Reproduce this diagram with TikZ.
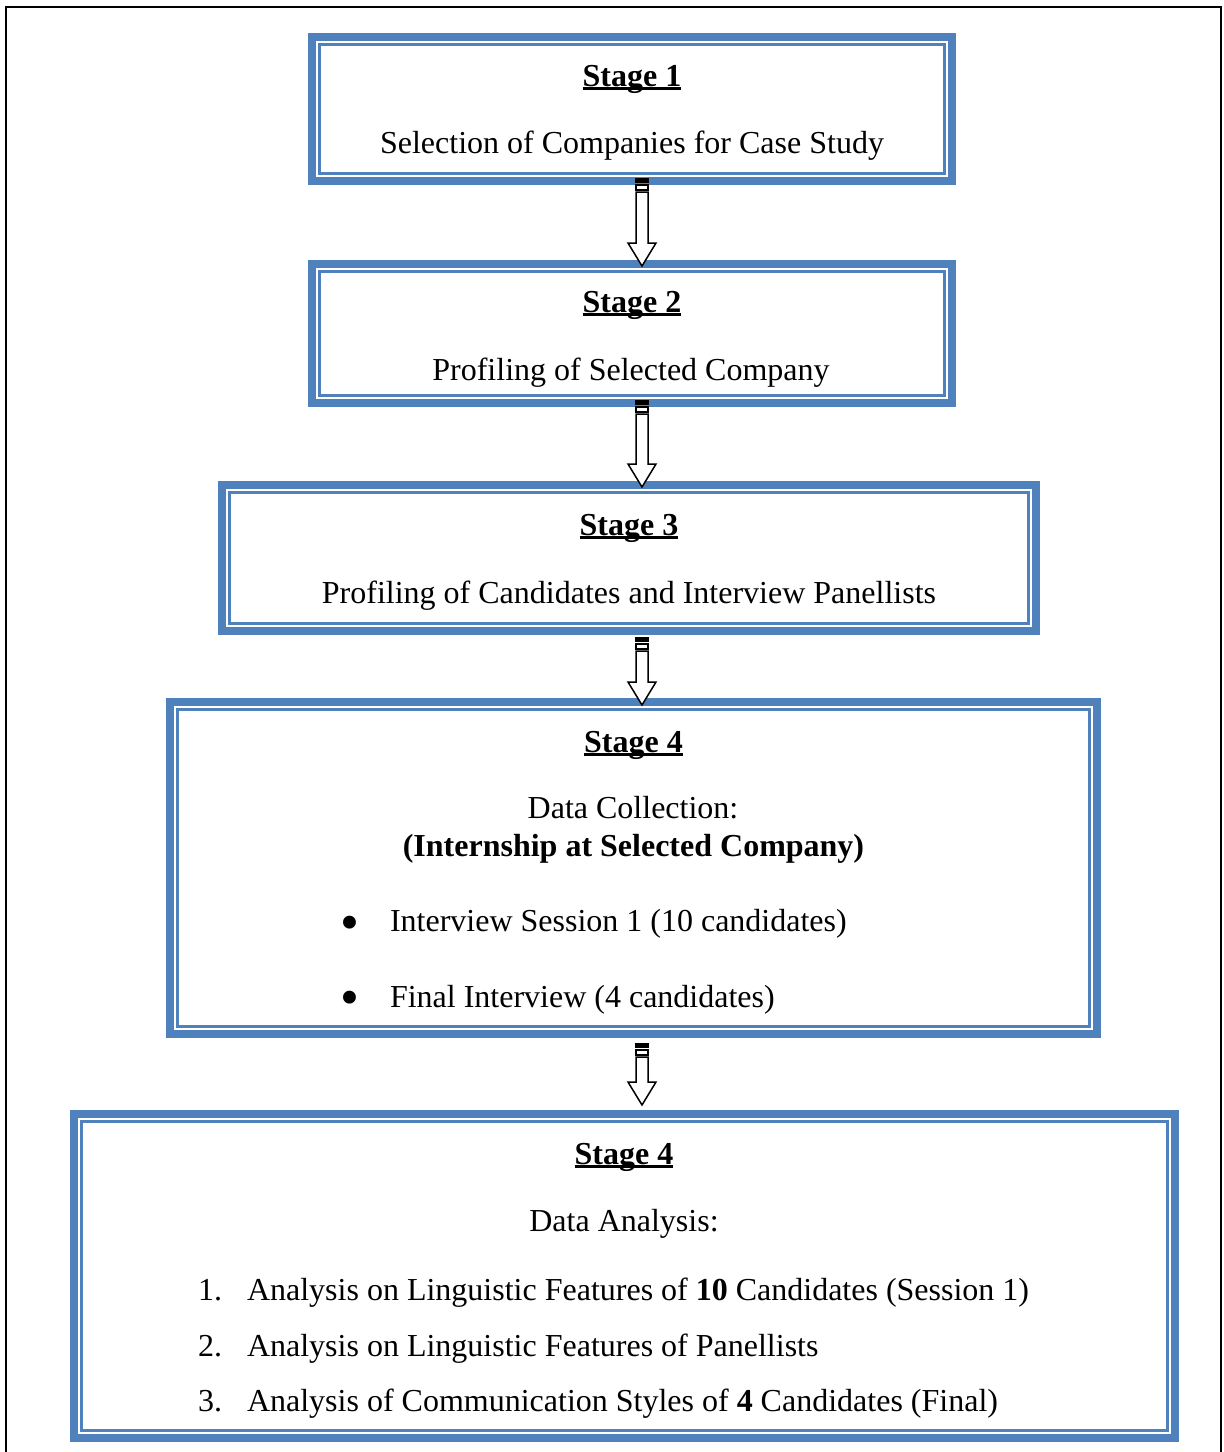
\documentclass[tikz,border=0pt]{standalone}
\usepackage{fontspec}
\setmainfont{Liberation Serif}
\usetikzlibrary{calc}
\definecolor{wblue}{HTML}{4F81BD}
\tikzset{
 stagebox/.style={draw=wblue, line width=4pt, rectangle, outer sep=0pt, inner sep=0pt},
 innerline/.style={draw=wblue, line width=1.5pt},
 txt/.style={inner sep=0pt, outer sep=0pt, font=\fontsize{16}{19}\selectfont, anchor=base},
 ttl/.style={txt, font=\fontsize{16}{19}\selectfont\bfseries},
 lft/.style={txt, anchor=base west},
 bul/.style={inner sep=0pt, outer sep=0pt, font=\fontsize{27}{27}\selectfont, anchor=center},
 uline/.style={line width=1.2pt},
 arrowline/.style={draw=black, line width=0.75pt, fill=white, line join=miter},
 framel/.style={line width=1pt}
}
\newcommand\stripearrow[2]{%
 \fill let \p1=(#1) in (\x1-3.5pt,\y1) rectangle (\x1+3.5pt,\y1-2.5pt);
 \draw[arrowline] let \p1=(#1) in (\x1-3pt,\y1-3.5pt) rectangle (\x1+3pt,\y1-6pt);
 \draw[arrowline] let \p1=(#1), \p2=(#2) in (\x1-3pt,\y1-7pt) -- (\x1-3pt,\y2+11.5pt) -- (\x1-7pt,\y2+11.5pt) -- (\x2,\y2) -- (\x1+7pt,\y2+11.5pt) -- (\x1+3pt,\y2+11.5pt) -- (\x1+3pt,\y1-7pt) -- cycle;
}
\begin{document}
\begin{tikzpicture}[x=0.5pt,y=-0.5pt]
\useasboundingbox (0,0) rectangle (1224,1452);
% outer frame
\coordinate (fa) at (6,1452);
\coordinate (fb) at (6,6.5);
\coordinate (fc) at (1221,6.5);
\coordinate (fd) at (1221,1452);
\draw[framel] (fa) -- (fb) -- (fc) -- (fd);

% boxes
\node[stagebox, minimum width=320pt, minimum height=72pt] (b1) at (632,109) {};
\node[stagebox, minimum width=320pt, minimum height=69.5pt] (b2) at (632,333.5) {};
\node[stagebox, minimum width=407pt, minimum height=73pt] (b3) at (629,558) {};
\node[stagebox, minimum width=463.5pt, minimum height=166pt] (b4) at (633.5,868) {};
\node[stagebox, minimum width=550.5pt, minimum height=162pt] (b5) at (624.5,1276) {};
\foreach \b in {b1,b2,b3,b4,b5}
  \draw[innerline] ([shift={(7.5,7.5)}]\b.north west) rectangle ([shift={(-7.5,-7.5)}]\b.south east);

% texts box 1
\node[ttl] (s1) at (632,86) {Stage 1};
\node[txt] (t1) at (632,153) {Selection of Companies for Case Study};
% box 2
\node[ttl] (s2) at (632,312) {Stage 2};
\node[txt] (t2) at (631,380) {Profiling of Selected Company};
% box 3
\node[ttl] (s3) at (629,535) {Stage 3};
\node[txt] (t3) at (629,603) {Profiling of Candidates and Interview Panellists};
% box 4
\node[ttl] (s4) at (633.5,752) {Stage 4};
\node[txt] (t4a) at (633,818) {Data Collection:};
\node[ttl] (t4b) at (633.5,856) {(Internship at Selected Company)};
\node[bul] (bu1) at (350,928) {\textbullet};
\node[lft] (i41) at (390,931) {Interview Session 1 (10 candidates)};
\node[bul] (bu2) at (350,1003) {\textbullet};
\node[lft] (i42) at (390,1007) {Final Interview (4 candidates)};
% box 5
\node[ttl] (s5) at (624,1164) {Stage 4};
\node[txt] (t5) at (624,1231) {Data Analysis:};
\node[lft] (n51) at (198,1300) {1.};
\node[lft] (i51) at (247,1300) {Analysis on Linguistic Features of \textbf{10} Candidates (Session 1)};
\node[lft] (n52) at (198,1356) {2.};
\node[lft] (i52) at (247,1356) {Analysis on Linguistic Features of Panellists};
\node[lft] (n53) at (198,1411) {3.};
\node[lft] (i53) at (247,1411) {Analysis of Communication Styles of \textbf{4} Candidates (Final)};

% underlines
\foreach \s in {s1,s2,s3,s4,s5}
  \draw[uline] ([yshift=-1.3pt]\s.base west) -- ([yshift=-1.3pt]\s.base east);

% arrows
\coordinate (a1s) at (642,178);  \coordinate (a1e) at (642,266);
\coordinate (a2s) at (642,400);  \coordinate (a2e) at (642,487);
\coordinate (a3s) at (642,637);  \coordinate (a3e) at (642,705);
\coordinate (a4s) at (642,1043); \coordinate (a4e) at (642,1105);
\stripearrow{a1s}{a1e}
\stripearrow{a2s}{a2e}
\stripearrow{a3s}{a3e}
\stripearrow{a4s}{a4e}
\end{tikzpicture}
\end{document}
